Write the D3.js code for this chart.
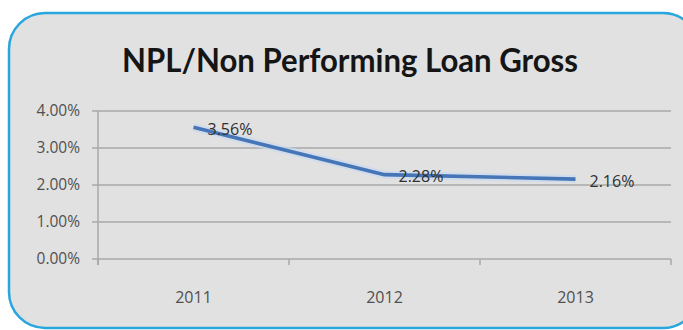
<!DOCTYPE html>
<html>
<head>
<meta charset="utf-8">
<script src="https://cdn.jsdelivr.net/npm/d3@7"></script>
<style>
  html, body { margin: 0; padding: 0; background: #ffffff; }
  svg { display: block; }
</style>
</head>
<body>
<svg id="chart" width="683" height="330"></svg>
<script>
// NPL ratio by year
const years = ["2011", "2012", "2013"];
const nplValues = [3.56, 2.28, 2.16];
const yTicks = [0, 1, 2, 3, 4];
const titleText = "NPL/Non Performing Loan Gross";

const svg = d3.select("#chart");

// Panel with rounded corners and blue border
svg.append("rect")
  .attr("x", 9).attr("y", 13)
  .attr("width", 690).attr("height", 315)
  .attr("rx", 36).attr("ry", 36)
  .attr("fill", "#e1e1e1")
  .attr("stroke", "#2aa6df")
  .attr("stroke-width", 2.5);

// Title
svg.append("text")
  .attr("x", 350).attr("y", 72)
  .attr("text-anchor", "middle")
  .attr("font-family", "Lato, 'Open Sans', sans-serif")
  .attr("font-weight", "bold")
  .attr("font-size", 33)
  .attr("fill", "#151515")
  .attr("textLength", 456)
  .attr("lengthAdjust", "spacingAndGlyphs")
  .text(titleText);

const margin = { left: 98, right: 671, top: 111, bottom: 259 };

const x = d3.scaleBand().domain(years).range([margin.left, margin.right]);
const y = d3.scaleLinear().domain([0, 4]).range([margin.bottom, margin.top]);

const g = svg.append("g");

// Horizontal gridlines
g.selectAll("line.grid").data(yTicks).join("line")
  .attr("class", "grid")
  .attr("x1", margin.left - 6).attr("x2", margin.right)
  .attr("y1", d => y(d)).attr("y2", d => y(d))
  .attr("stroke", "#a9a9a9").attr("stroke-width", 1.5);

// Y axis line
g.append("line")
  .attr("x1", margin.left).attr("x2", margin.left)
  .attr("y1", margin.top).attr("y2", margin.bottom + 6)
  .attr("stroke", "#a9a9a9").attr("stroke-width", 1.5);

// Category tick marks at band boundaries
const boundaries = years.map(d => x(d)).concat([x(years[years.length - 1]) + x.bandwidth()]);
g.selectAll("line.xtick").data(boundaries).join("line")
  .attr("class", "xtick")
  .attr("x1", d => d).attr("x2", d => d)
  .attr("y1", margin.bottom).attr("y2", margin.bottom + 6)
  .attr("stroke", "#a9a9a9").attr("stroke-width", 1.5);

// Y tick labels
g.selectAll("text.ylab").data(yTicks).join("text")
  .attr("class", "ylab")
  .attr("x", 80).attr("y", d => y(d))
  .attr("dy", "0.35em")
  .attr("text-anchor", "end")
  .attr("font-family", "'Open Sans', sans-serif")
  .attr("font-size", 15.5)
  .attr("fill", "#505050")
  .text(d => d.toFixed(2) + "%");

// X category labels
g.selectAll("text.xlab").data(years).join("text")
  .attr("class", "xlab")
  .attr("x", d => x(d) + x.bandwidth() / 2)
  .attr("y", 297)
  .attr("dy", "0.35em")
  .attr("text-anchor", "middle")
  .attr("font-family", "'Open Sans', sans-serif")
  .attr("font-size", 16)
  .attr("fill", "#505050")
  .text(d => d);

// Line series
const pts = years.map((d, i) => [x(d) + x.bandwidth() / 2, y(nplValues[i])]);
const lineGen = d3.line();

g.append("path")
  .attr("d", lineGen(pts))
  .attr("fill", "none")
  .attr("stroke", "#c9daf0")
  .attr("stroke-width", 8)
  .attr("stroke-linejoin", "round")
  .attr("opacity", 0.7);

g.append("path")
  .attr("d", lineGen(pts))
  .attr("fill", "none")
  .attr("stroke", "#4675b8")
  .attr("stroke-width", 3.6)
  .attr("stroke-linejoin", "round");

// Data labels
g.selectAll("text.dlab").data(nplValues).join("text")
  .attr("class", "dlab")
  .attr("x", (d, i) => pts[i][0] + 14)
  .attr("y", (d, i) => pts[i][1] + 2)
  .attr("dy", "0.35em")
  .attr("font-family", "'Open Sans', sans-serif")
  .attr("font-size", 16)
  .attr("fill", "#303030")
  .text(d => d.toFixed(2) + "%");
</script>
</body>
</html>
